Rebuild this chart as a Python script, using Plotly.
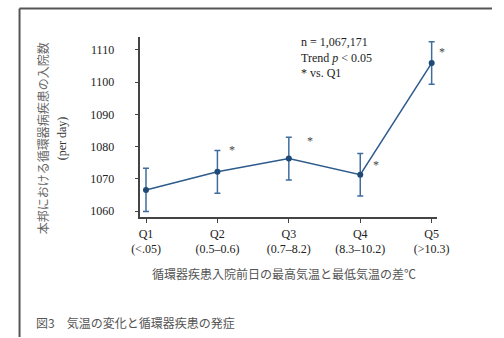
import plotly.graph_objects as go

# Quintiles of the day-before diurnal temperature range
quintiles = ["Q1", "Q2", "Q3", "Q4", "Q5"]
ranges = ["(&lt;.05)", "(0.5–0.6)", "(0.7–8.2)", "(8.3–10.2)", "(&gt;10.3)"]
admissions = [1066.6, 1072.2, 1076.3, 1071.3, 1105.9]
ci_half = [6.7, 6.6, 6.6, 6.6, 6.6]
# Quintiles significantly different from Q1, with star offsets (px) from the point
star_idx = [1, 2, 3, 4]
star_dx = [15, 21, 16, 10]
star_dy = [22, 18, 10, 11]

W, H = 504, 338
serif = "Liberation Serif, Times New Roman, serif"
cjk = "Noto Sans CJK JP, sans-serif"

x = list(range(len(quintiles)))
fig = go.Figure()
fig.add_trace(go.Scatter(
    x=x, y=admissions, mode="lines+markers",
    line=dict(color="#2d5b8c", width=1.5),
    marker=dict(color="#1f4a78", size=6),
    error_y=dict(type="data", array=ci_half, visible=True,
                 color="#3e6d9e", thickness=1.5, width=3),
    showlegend=False, hoverinfo="skip",
))

# Significance markers
for i, dx, dy in zip(star_idx, star_dx, star_dy):
    fig.add_annotation(x=i, y=admissions[i], xref="x", yref="y",
                       text="*", showarrow=False,
                       xanchor="center", yanchor="middle",
                       xshift=dx, yshift=dy,
                       font=dict(family=serif, size=12, color="#444"))

x0, x1 = 137, 447
y_top, y_bot = 37, 218
fig.update_layout(
    width=W, height=H,
    margin=dict(l=0, r=0, t=0, b=0),
    paper_bgcolor="white", plot_bgcolor="white",
    xaxis=dict(
        domain=[x0 / W, x1 / W], range=[-0.08, 4.08],
        tickmode="array", tickvals=x,
        ticktext=[f"{q}<br>{r}" for q, r in zip(quintiles, ranges)],
        showgrid=False, zeroline=False,
        showline=True, linecolor="#444", linewidth=1.5,
        ticks="outside", ticklen=4, tickcolor="#444", tickwidth=1,
        tickfont=dict(family=serif, size=12, color="#222"),
    ),
    yaxis=dict(
        domain=[1 - y_bot / H, 1 - y_top / H], range=[1058.1, 1114],
        tickmode="array", tickvals=[1060, 1070, 1080, 1090, 1100, 1110],
        showgrid=False, zeroline=False,
        showline=True, linecolor="#444", linewidth=1.5,
        ticks="outside", ticklen=4, tickcolor="#444", tickwidth=1,
        ticklabelstandoff=18,
        tickfont=dict(family=serif, size=12, color="#222"),
    ),
)

# Statistics note
fig.add_annotation(x=303 / W, y=1 - 33 / H, xref="paper", yref="paper",
                   xanchor="left", yanchor="top", align="left", showarrow=False,
                   text="n = 1,067,171<br>Trend <i>p</i> &lt; 0.05<br>* vs. Q1",
                   font=dict(family=serif, size=12, color="#222"))

# Y-axis title (two rotated lines)
fig.add_annotation(x=35 / W, y=1 - 139 / H, xref="paper", yref="paper",
                   xanchor="center", yanchor="middle",
                   text="本邦における循環器病疾患の入院数", textangle=-90,
                   showarrow=False, font=dict(family=cjk, size=12, color="#666"))
fig.add_annotation(x=55 / W, y=1 - 139 / H, xref="paper", yref="paper",
                   xanchor="center", yanchor="middle",
                   text="(per day)", textangle=-90,
                   showarrow=False, font=dict(family=serif, size=12, color="#333"))

# X-axis title
fig.add_annotation(x=287 / W, y=1 - 274 / H, xref="paper", yref="paper",
                   xanchor="center", yanchor="middle",
                   text="循環器疾患入院前日の最高気温と最低気温の差℃",
                   showarrow=False, font=dict(family=cjk, size=12, color="#555"))

# Figure caption
fig.add_annotation(x=26 / W, y=1 - 323 / H, xref="paper", yref="paper",
                   xanchor="left", yanchor="middle",
                   text="図3　気温の変化と循環器疾患の発症",
                   showarrow=False, font=dict(family=cjk, size=12, color="#555"))

# Frame lines (top and left)
fig.add_shape(type="line", xref="paper", yref="paper",
              x0=11 / W, x1=1, y0=1 - 8.5 / H, y1=1 - 8.5 / H,
              line=dict(color="#555", width=2))
fig.add_shape(type="line", xref="paper", yref="paper",
              x0=11 / W, x1=11 / W, y0=0, y1=1 - 8.5 / H,
              line=dict(color="#555", width=2))

fig.write_html("out.html")
